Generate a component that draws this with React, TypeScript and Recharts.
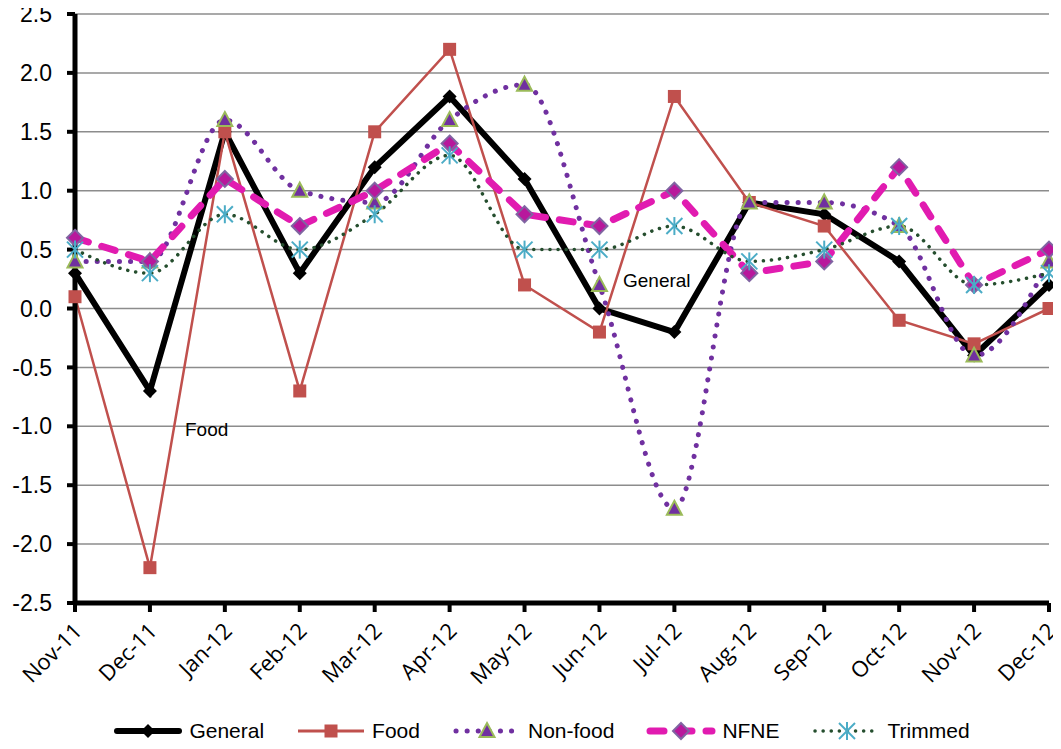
import React from "react";
import { LineChart, Line, XAxis, YAxis, CartesianGrid, Legend } from "recharts";

const months = ["Nov-11", "Dec-11", "Jan-12", "Feb-12", "Mar-12", "Apr-12", "May-12", "Jun-12", "Jul-12", "Aug-12", "Sep-12", "Oct-12", "Nov-12", "Dec-12"];
const general = [0.3, -0.7, 1.5, 0.3, 1.2, 1.8, 1.1, 0.0, -0.2, 0.9, 0.8, 0.4, -0.4, 0.2];
const food = [0.1, -2.2, 1.5, -0.7, 1.5, 2.2, 0.2, -0.2, 1.8, 0.9, 0.7, -0.1, -0.3, 0.0];
const nonFood = [0.4, 0.4, 1.6, 1.0, 0.9, 1.6, 1.9, 0.2, -1.7, 0.9, 0.9, 0.7, -0.4, 0.4];
const nfne = [0.6, 0.4, 1.1, 0.7, 1.0, 1.4, 0.8, 0.7, 1.0, 0.3, 0.4, 1.2, 0.2, 0.5];
const trimmed = [0.5, 0.3, 0.8, 0.5, 0.8, 1.3, 0.5, 0.5, 0.7, 0.4, 0.5, 0.7, 0.2, 0.3];
const yTicks = [-2.5, -2.0, -1.5, -1.0, -0.5, 0.0, 0.5, 1.0, 1.5, 2.0, 2.5];

const data = months.map((m, i) => ({
  month: m,
  general: general[i],
  food: food[i],
  nonFood: nonFood[i],
  nfne: nfne[i],
  trimmed: trimmed[i],
}));

const FONT = "'Liberation Sans', Arial, sans-serif";

const C = {
  general: "#000000",
  food: "#C0504D",
  nonFood: "#7030A0",
  nonFoodEdge: "#9BBB59",
  nfne: "#E11BB0",
  nfneFill: "#B8189C",
  nfneEdge: "#8064A2",
  trimmed: "#254E2E",
  trimmedMark: "#4BACC6",
};

const diamondPath = (cx: number, cy: number, r: number) =>
  `M${cx},${cy - r}L${cx + r},${cy}L${cx},${cy + r}L${cx - r},${cy}Z`;

const markGeneral = (cx: number, cy: number, k?: any) => (
  <path key={k} d={diamondPath(cx, cy, 7)} fill={C.general} stroke="none" />
);
const markFood = (cx: number, cy: number, k?: any) => (
  <rect key={k} x={cx - 6.5} y={cy - 6.5} width={13} height={13} fill={C.food} stroke="none" />
);
const markNonFood = (cx: number, cy: number, k?: any) => (
  <path
    key={k}
    d={`M${cx},${cy - 8}L${cx + 7.5},${cy + 6}L${cx - 7.5},${cy + 6}Z`}
    fill={C.nonFood}
    stroke={C.nonFoodEdge}
    strokeWidth={2}
    strokeDasharray="none"
  />
);
const markNfne = (cx: number, cy: number, k?: any) => (
  <path
    key={k}
    d={diamondPath(cx, cy, 8)}
    fill={C.nfneFill}
    stroke={C.nfneEdge}
    strokeWidth={2}
    strokeDasharray="none"
  />
);
const markTrimmed = (cx: number, cy: number, k?: any) => (
  <g key={k} stroke={C.trimmedMark} strokeWidth={2} strokeDasharray="none">
    <line x1={cx} y1={cy - 9} x2={cx} y2={cy + 9} />
    <line x1={cx - 8} y1={cy - 8} x2={cx + 8} y2={cy + 8} />
    <line x1={cx - 8} y1={cy + 8} x2={cx + 8} y2={cy - 8} />
  </g>
);

const dotFn = (mark: (cx: number, cy: number, k?: any) => React.ReactElement, name: string) => (props: any) => {
  const { cx, cy, index } = props;
  if (cx == null || cy == null) return <g key={`${name}-${index}`} />;
  return mark(cx, cy, `${name}-${index}`);
};

const XTick = (props: any) => {
  const { x, y, payload } = props;
  return (
    <g transform={`translate(${x + 3},${y + 13})`}>
      <text
        x={0}
        y={0}
        dy="0.35em"
        textAnchor="end"
        transform="rotate(-45)"
        fontFamily="'Open Sans', sans-serif"
        fontSize={22}
        fill="#000"
      >
        {payload.value}
      </text>
    </g>
  );
};

const legendItems = [
  { name: "General", key: "general" },
  { name: "Food", key: "food" },
  { name: "Non-food", key: "nonFood" },
  { name: "NFNE", key: "nfne" },
  { name: "Trimmed", key: "trimmed" },
];

const LegendIcon = ({ k }: { k: string }) => {
  const w = 70;
  const h = 22;
  const cy = h / 2;
  const cx = w / 2;
  let line: React.ReactNode = null;
  let mark: React.ReactNode = null;
  if (k === "general") {
    line = <line x1={4} y1={cy} x2={w - 4} y2={cy} stroke={C.general} strokeWidth={6} strokeLinecap="round" />;
    mark = markGeneral(cx, cy);
  } else if (k === "food") {
    line = <line x1={2} y1={cy} x2={w - 2} y2={cy} stroke={C.food} strokeWidth={3} />;
    mark = markFood(cx, cy);
  } else if (k === "nonFood") {
    line = (
      <line x1={4} y1={cy} x2={w - 4} y2={cy} stroke={C.nonFood} strokeWidth={5} strokeLinecap="round" strokeDasharray="0.1 11" />
    );
    mark = markNonFood(cx, cy);
  } else if (k === "nfne") {
    line = (
      <line x1={4} y1={cy} x2={w - 4} y2={cy} stroke={C.nfne} strokeWidth={7} strokeLinecap="round" strokeDasharray="14 14" />
    );
    mark = markNfne(cx, cy);
  } else {
    line = (
      <line x1={3} y1={cy} x2={w - 3} y2={cy} stroke={C.trimmed} strokeWidth={3.5} strokeLinecap="round" strokeDasharray="0.1 8" />
    );
    mark = markTrimmed(cx, cy);
  }
  return (
    <svg width={w} height={h} style={{ display: "block" }}>
      {line}
      {mark}
    </svg>
  );
};

const renderLegend = () => (
  <div
    style={{
      display: "flex",
      justifyContent: "center",
      alignItems: "center",
      paddingLeft: 34,
      paddingTop: 6,
      fontFamily: FONT,
      fontSize: 21,
      color: "#000",
    }}
  >
    {legendItems.map((it, i) => (
      <div key={it.key} style={{ display: "flex", alignItems: "center", marginLeft: i === 0 ? 0 : 32 }}>
        <LegendIcon k={it.key} />
        <span style={{ marginLeft: 6 }}>{it.name}</span>
      </div>
    ))}
  </div>
);

export default function App() {
  return (
    <div style={{ position: "relative", width: 1061, height: 749, marginLeft: -8, marginTop: -8 }}>
      <LineChart
        width={1061}
        height={749}
        data={data}
        margin={{ top: 14, right: 12, bottom: 0, left: 0 }}
        style={{ overflow: "visible" }}
      >
        <CartesianGrid vertical={false} stroke="#8c8c8c" strokeWidth={1.5} />
        <XAxis
          dataKey="month"
          interval={0}
          height={110}
          tick={<XTick />}
          tickSize={9}
          tickMargin={2}
          axisLine={{ stroke: "#000", strokeWidth: 5 }}
          tickLine={{ stroke: "#000", strokeWidth: 4 }}
        />
        <YAxis
          width={75}
          domain={[-2.5, 2.5]}
          ticks={yTicks}
          interval={0}
          tickFormatter={(v: number) => v.toFixed(1)}
          tick={{ fontSize: 23, fill: "#000", fontFamily: FONT }}
          tickSize={8}
          tickMargin={15}
          axisLine={{ stroke: "#000", strokeWidth: 5 }}
          tickLine={{ stroke: "#000", strokeWidth: 4 }}
        />
        <Legend verticalAlign="bottom" height={36} content={renderLegend} />
        <Line
          type="linear"
          dataKey="general"
          stroke={C.general}
          strokeWidth={6}
          dot={dotFn(markGeneral, "g")}
          activeDot={false}
          isAnimationActive={false}
        />
        <Line
          type="linear"
          dataKey="food"
          stroke={C.food}
          strokeWidth={2.5}
          dot={dotFn(markFood, "f")}
          activeDot={false}
          isAnimationActive={false}
        />
        <Line
          type="monotone"
          dataKey="nonFood"
          stroke={C.nonFood}
          strokeWidth={5}
          strokeLinecap="round"
          strokeDasharray="0.1 11"
          dot={dotFn(markNonFood, "n")}
          activeDot={false}
          isAnimationActive={false}
        />
        <Line
          type="linear"
          dataKey="nfne"
          stroke={C.nfne}
          strokeWidth={7}
          strokeLinecap="round"
          strokeDasharray="14 14"
          dot={dotFn(markNfne, "e")}
          activeDot={false}
          isAnimationActive={false}
        />
        <Line
          type="monotone"
          dataKey="trimmed"
          stroke={C.trimmed}
          strokeWidth={3.5}
          strokeLinecap="round"
          strokeDasharray="0.1 8"
          dot={dotFn(markTrimmed, "t")}
          activeDot={false}
          isAnimationActive={false}
        />
      </LineChart>
      <span style={{ position: "absolute", left: 623, top: 270, fontFamily: FONT, fontSize: 19, color: "#000" }}>General</span>
      <span style={{ position: "absolute", left: 185, top: 419, fontFamily: FONT, fontSize: 19, color: "#000" }}>Food</span>
    </div>
  );
}
